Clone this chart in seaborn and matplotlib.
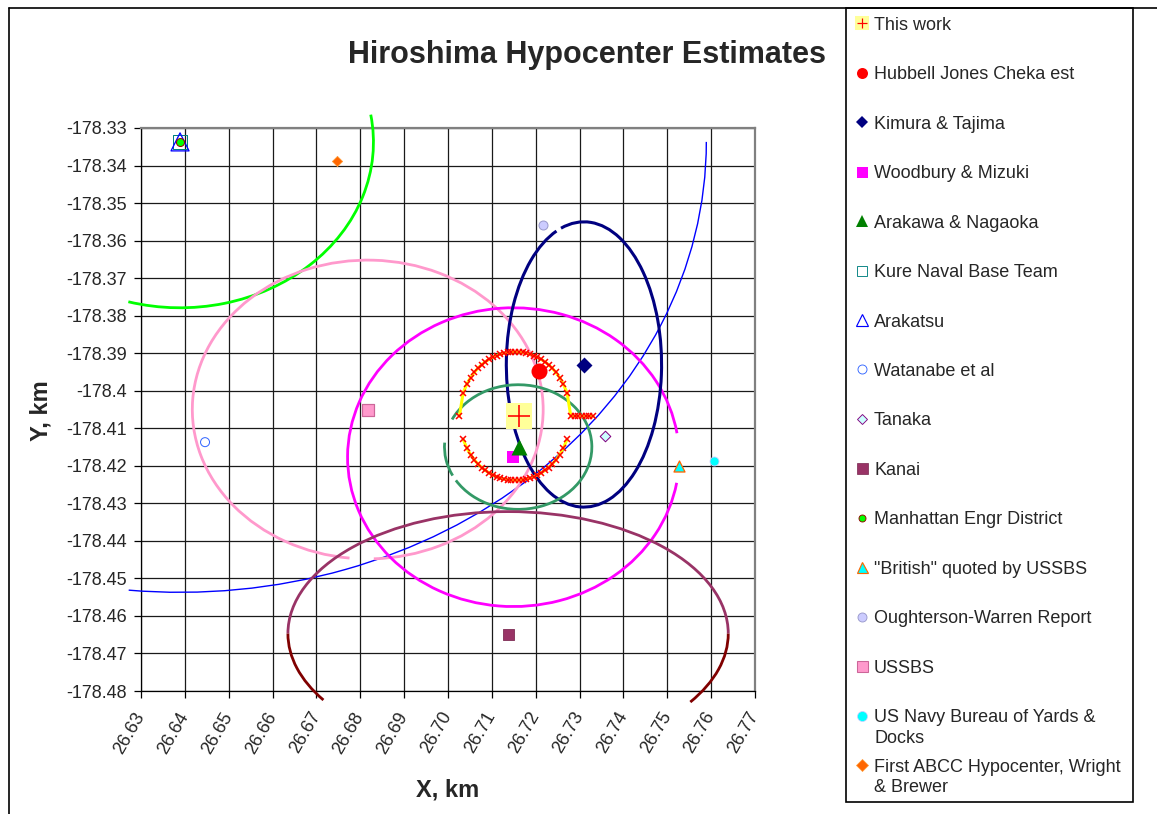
import numpy as np
import matplotlib
matplotlib.use("Agg")
import matplotlib.pyplot as plt
from matplotlib.patches import Arc, Rectangle
from matplotlib.lines import Line2D
import seaborn as sns

sns.set_style("white")
plt.rcParams["font.family"] = ["Liberation Sans", "DejaVu Sans"]
plt.rcParams["axes.unicode_minus"] = False

W, H, DPI = 1157, 814, 100
PT = 72.0 / DPI  # points per pixel

# ---------------- hypocenter estimates (km) ----------------
names = ["This work", "Hubbell Jones Cheka est", "Kimura & Tajima",
         "Woodbury & Mizuki", "Arakawa & Nagaoka", "Kure Naval Base Team",
         "Arakatsu", "Watanabe et al", "Tanaka", "Kanai",
         "Manhattan Engr District", '"British" quoted by USSBS',
         "Oughterson-Warren Report", "USSBS",
         "US Navy Bureau of Yards &\nDocks",
         "First ABCC Hypocenter, Wright\n& Brewer"]
est_x = [26.7161, 26.7207, 26.7310, 26.7148, 26.7161, 26.6389, 26.6389,
         26.6446, 26.7358, 26.7137, 26.6389, 26.7527, 26.7217, 26.6817,
         26.7607, 26.6748]
est_y = [-178.4066, -178.3948, -178.3932, -178.4177, -178.4151, -178.3337,
         -178.3337, -178.4137, -178.4121, -178.4647, -178.3338, -178.4201,
         -178.3559, -178.4050, -178.4188, -178.3389]

# ---------------- uncertainty contours ----------------
# centre, semi-axes (km) and the drawn arc pieces (degrees)
cont_cx = [26.6389, 26.6389, 26.6817, 26.7149, 26.7310, 26.7160, 26.7137, 26.7137]
cont_cy = [-178.3337, -178.3338, -178.4050, -178.4177, -178.3930, -178.4150,
           -178.4647, -178.4647]
cont_rx = [0.1200, 0.0441, 0.0400, 0.0378, 0.0177, 0.0168, 0.0502, 0.0502]
cont_ry = [0.1200, 0.0441, 0.0398, 0.0398, 0.0380, 0.0166, 0.0325, 0.0325]
cont_arcs = [
    [(264.4, 360.0)],
    [(254.5, 369.6)],
    [(-88.0, 264.0)],
    [(9.7, 349.6)],
    [(-260.0, 98.2)],
    [(-148.0, 154.0), (176.0, 207.0)],
    [(0.0, 180.0)],
    [(180.0, 202.8), (-23.7, 0.0)],
]
cont_color = ["#0000FF", "#00FF00", "#FF99CC", "#FF00FF", "#000080",
              "#339966", "#993366", "#800000"]
cont_lw = [1.0, 2.0, 2.0, 2.0, 2.2, 2.0, 2.0, 2.0]

# "This work" contour: centre, semi-axes, sampling in x
ring_cx, ring_cy = 26.7153, -178.40676
ring_rx, ring_ry = 0.0127, 0.01712
ring_steps = 30
ring_extra = 6

# ---------------- axis ticks ----------------
x_ticks = [26.63, 26.64, 26.65, 26.66, 26.67, 26.68, 26.69, 26.70,
           26.71, 26.72, 26.73, 26.74, 26.75, 26.76, 26.77]
x_tick_labels = ["26.63", "26.64", "26.65", "26.66", "26.67", "26.68", "26.69",
                 "26.70", "26.71", "26.72", "26.73", "26.74", "26.75", "26.76",
                 "26.77"]
y_ticks = [-178.33, -178.34, -178.35, -178.36, -178.37, -178.38, -178.39,
           -178.40, -178.41, -178.42, -178.43, -178.44, -178.45, -178.46,
           -178.47, -178.48]
y_tick_labels = ["-178.33", "-178.34", "-178.35", "-178.36", "-178.37",
                 "-178.38", "-178.39", "-178.4", "-178.41", "-178.42",
                 "-178.43", "-178.44", "-178.45", "-178.46", "-178.47",
                 "-178.48"]

# marker styles: marker, size on plot (px), size in key (px), face, edge, edge width (px)
styles = [
    ("s", 26, 14, "#FFFF99", "#FFFF99", 0.0),
    ("o", 16, 11, "#FF0000", "#FF0000", 0.0),
    ("D", 11.3, 7.8, "#000080", "#000080", 0.0),
    ("s", 11.5, 11, "#FF00FF", "#FF00FF", 0.0),
    ("^", 16, 12, "#008000", "#008000", 0.0),
    ("s", 14, 10, "none", "#008080", 1.0),
    ("^", 18, 12, "none", "#0000FF", 1.3),
    ("o", 9, 9, "none", "#3366FF", 1.0),
    ("D", 7.5, 7.5, "#CCFFFF", "#800080", 1.0),
    ("s", 11, 11, "#993366", "#7A2850", 0.8),
    ("o", 8, 7, "#00FF00", "#990000", 1.0),
    ("^", 11, 11, "#00FFFF", "#FF6600", 1.3),
    ("o", 9, 9, "#CCCCFF", "#9999CC", 1.0),
    ("s", 11.5, 11, "#FF99CC", "#CC6699", 1.2),
    ("o", 9, 10, "#00FFFF", "#CCCCFF", 0.8),
    ("D", 7.2, 7.8, "#FF6600", "#FF9933", 0.8),
]

fig = plt.figure(figsize=(W / DPI, H / DPI), dpi=DPI)
fig.patch.set_facecolor("white")


def fx(px):
    return px / W


def fy(py):
    return 1 - py / H


ax = fig.add_axes([fx(141), fy(691), (755 - 141) / W, (691 - 128) / H])
ax.set_xlim(26.63, 26.77)
ax.set_ylim(-178.48, -178.33)

# grid
ax.set_xticks(x_ticks)
ax.set_yticks(y_ticks)
ax.grid(True, color="#1a1a1a", linewidth=0.9)
ax.set_axisbelow(True)
ax.set_xticklabels(x_tick_labels, rotation=60, ha="right", va="center",
                   rotation_mode="anchor", fontsize=13)
ax.set_yticklabels(y_tick_labels, fontsize=13)
ax.tick_params(axis="both", direction="out", length=5, width=0.9,
               color="black", bottom=True, left=True)
ax.tick_params(axis="x", pad=11)
ax.tick_params(axis="y", pad=5)
for side in ("left", "bottom"):
    ax.spines[side].set_color("black")
    ax.spines[side].set_linewidth(0.9)
for side in ("top", "right"):
    ax.spines[side].set_color("#808080")
    ax.spines[side].set_linewidth(1.6)

# contours
for cx, cy, rx, ry, arcs, col, lw in zip(cont_cx, cont_cy, cont_rx, cont_ry,
                                         cont_arcs, cont_color, cont_lw):
    for t1, t2 in arcs:
        ax.add_patch(Arc((cx, cy), 2 * rx, 2 * ry, theta1=t1, theta2=t2,
                         color=col, lw=lw, clip_on=False, zorder=3))

# "This work" contour sampled evenly in x
u = np.linspace(-1.0, 1.0, ring_steps + 1)
h = np.sqrt(np.clip(1 - u ** 2, 0, None))
ext = 1.0 + np.arange(1, ring_extra + 1) * (2.0 / ring_steps)
top_x = np.concatenate([ring_cx + ring_rx * u, ring_cx + ring_rx * ext])
top_y = np.concatenate([ring_cy + ring_ry * h, np.full(ring_extra, ring_cy)])
bot_x = ring_cx + ring_rx * u[1:-1]
bot_y = ring_cy - ring_ry * h[1:-1]
for xs, ys in ((top_x, top_y), (bot_x, bot_y)):
    ax.plot(xs, ys, color="#FFFF00", lw=2.2, marker="x", ms=4.6,
            mec="#FF0000", mew=1.1, zorder=4)

# estimate markers
for i, (x, y) in enumerate(zip(est_x, est_y)):
    m, size, _, face, edge, ew = styles[i]
    sns.scatterplot(x=[x], y=[y], ax=ax, marker=m, s=(size * PT) ** 2,
                    color=face if face != "none" else edge, edgecolor=edge,
                    linewidth=ew * PT, legend=False, zorder=6)
    if face == "none":
        ax.collections[-1].set_facecolor("none")
    if i == 0:
        sns.scatterplot(x=[x], y=[y], ax=ax, marker="+", s=(22 * PT) ** 2,
                        color="#FF0000", linewidth=1.6 * PT, legend=False,
                        zorder=7)

# titles
fig.text(fx(587), fy(63), "Hiroshima Hypocenter Estimates", ha="center",
         va="baseline", fontsize=22, fontweight="bold")
fig.text(fx(448), fy(797), "X, km", ha="center", va="baseline",
         fontsize=17, fontweight="bold")
fig.text(fx(41), fy(411), "Y, km", ha="center", va="center", rotation=90,
         fontsize=17, fontweight="bold")

# chart border
fig.add_artist(Line2D([fx(9), fx(9)], [fy(8), 0], color="black", lw=1.2,
                      transform=fig.transFigure))
fig.add_artist(Line2D([fx(9), 1], [fy(8), fy(8)], color="black", lw=1.2,
                      transform=fig.transFigure))

# legend box with keys
fig.add_artist(Rectangle((fx(846), fy(802)), (1133 - 846) / W, (802 - 8) / H,
                         transform=fig.transFigure, facecolor="white",
                         edgecolor="black", lw=1.2))
y0, pitch, line_gap = 23.3, 49.45, 20.6
for i, name in enumerate(names):
    m, _, ksize, face, edge, ew = styles[i]
    yc = y0 + i * pitch
    fig.add_artist(Line2D([fx(862)], [fy(yc)], marker=m, ms=ksize * PT,
                          mfc=face, mec=edge, mew=max(ew, 0.01) * PT * 0.9,
                          ls="none", transform=fig.transFigure))
    if i == 0:
        fig.add_artist(Line2D([fx(862)], [fy(yc)], marker="+", ms=10 * PT,
                              mec="#FF0000", mew=1.2 * PT, ls="none",
                              transform=fig.transFigure))
    for j, line in enumerate(name.split("\n")):
        fig.text(fx(874), fy(yc + j * line_gap + 6.5), line, ha="left",
                 va="baseline", fontsize=13)

fig.savefig("out.png", dpi=DPI, facecolor="white")
